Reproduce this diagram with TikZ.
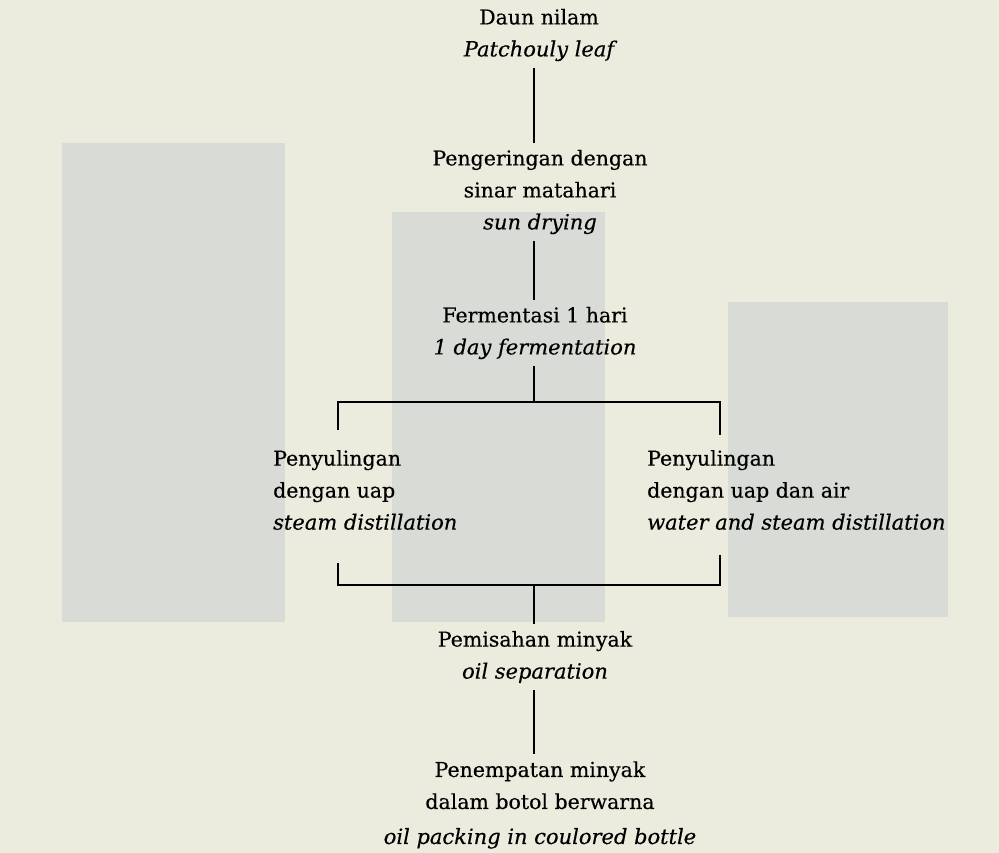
\documentclass[tikz,border=0pt]{standalone}
\usepackage{fontspec}
\setmainfont{DejaVu Serif}[UprightFeatures={FakeBold=0.4},ItalicFeatures={FakeBold=0.4}]
\definecolor{paper}{RGB}{236,236,222}
\definecolor{block}{RGB}{217,220,214}
\newcommand\engl[1]{{\fontsize{21}{32}\selectfont\itshape #1}}
\begin{document}
\begin{tikzpicture}[x=1pt,y=-1pt,
  lbl/.style={inner sep=7pt, align=center, font=\fontsize{20.5}{32}\selectfont},
  lblw/.style={inner sep=7pt, align=left, anchor=west, font=\fontsize{20.5}{32}\selectfont},
  conn/.style={line width=2pt, black}]
\fill[paper] (0,0) rectangle (999,853);
\useasboundingbox (0,0) rectangle (999,853);
% show-through shading of the scanned page
\fill[block] (62,143) rectangle (285,622);
\fill[block] (392,212) rectangle (605,622);
\fill[block] (728,302) rectangle (948,617);

\node[lbl] (n1) at (539,35) {Daun nilam\\ \engl{Patchouly leaf}};
\node[lbl] (n2) at (540,192) {Pengeringan dengan\\ sinar matahari\\ \engl{sun drying}};
\node[lbl] (n3) at (535,333) {Fermentasi 1 hari\\ \engl{1 day fermentation}};
\node[lblw] (n4) at (266,490) {Penyulingan\\ dengan uap\\ \engl{steam distillation}};
\node[lblw] (n5) at (640,490) {Penyulingan\\ dengan uap dan air\\ \engl{water and steam distillation}};
\node[lbl] (n6) at (535,657) {Pemisahan minyak\\ \engl{oil separation}};
\node[lbl] (n7) at (540,805) {Penempatan minyak\\ dalam botol berwarna\\[3pt] \engl{oil packing in coulored bottle}};

\coordinate (sp) at (534,402);
\coordinate (bl) at (338,402);
\coordinate (br) at (720,402);
\coordinate (bl2) at (338,430);
\coordinate (br2) at (720,435);
\coordinate (jl1) at (338,563);
\coordinate (jr1) at (720,555);
\coordinate (jl) at (338,585);
\coordinate (jr) at (720,585);
\coordinate (jm) at (534,585);

\draw[conn] (n1.south -| sp) -- (n2.north -| sp);
\draw[conn] (n2.south -| sp) -- (n3.north -| sp);
\draw[conn] (n3.south -| sp) -- (sp);
\draw[conn] (bl2) -- (bl) -- (br) -- (br2);
\draw[conn] (jl1) -- (jl) -- (jr) -- (jr1);
\draw[conn] (jm) -- (n6.north -| jm);
\draw[conn] (n6.south -| jm) -- (n7.north -| jm);
\end{tikzpicture}
\end{document}
